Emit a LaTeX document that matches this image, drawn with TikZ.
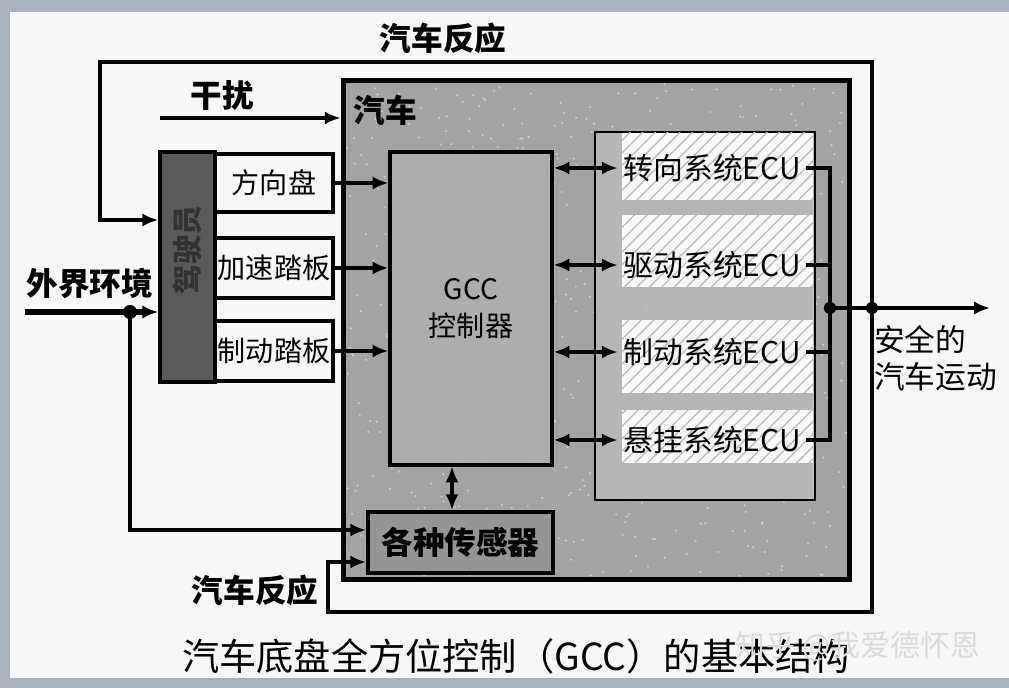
\documentclass[tikz,border=0pt]{standalone}
\usepackage{fontspec}
\setmainfont{Noto Sans CJK SC}
\usetikzlibrary{arrows.meta,patterns.meta}

\definecolor{pagegray}{HTML}{A9B1BE}
\definecolor{paper}{HTML}{F7F7F7}
\definecolor{carfill}{HTML}{A3A3A3}
\definecolor{panelfill}{HTML}{BABABA}
\definecolor{gccfill}{HTML}{AFAFAF}
\definecolor{drvfill}{HTML}{5A5A5A}
\definecolor{sensfill}{HTML}{959595}

\begin{document}
\begin{tikzpicture}[x=0.02cm,y=-0.02cm,
    box/.style={draw,line width=2pt,inner sep=0pt},
    arr/.style={line width=2.2pt,-{Latex[length=9pt,width=7.5pt]}},
    darr/.style={line width=2.2pt,{Latex[length=9pt,width=7.5pt]}-{Latex[length=9pt,width=7.5pt]}},
    lab/.style={font=\fontsize{18}{20}\selectfont\bfseries},
    boxtxt/.style={font=\fontsize{16}{18}\selectfont},
    ecutxt/.style={font=\fontsize{17}{19}\selectfont,inner sep=3pt}
]

    % Sfondo
    \useasboundingbox (0,0) rectangle (1009,688);
    \fill[pagegray] (0,0) rectangle (1009,688);
    \fill[paper] (10,12) rectangle (1009,678);

    % Riquadri
    \node[box,line width=2.8pt,fill=carfill,minimum width=10.14cm,minimum height=10cm] (car) at (596.5,330) {};
    \pgfmathsetseed{7}
    \foreach \i in {1,...,600}
        \fill[white,opacity=0.45] ({347+500*rnd},{84+492*rnd}) circle[radius=0.7pt];
    \node[draw,line width=1.2pt,fill=panelfill,fill opacity=0.85,draw opacity=1,minimum width=4.4cm,minimum height=7.36cm] (panel) at (705,316) {};
    \foreach \ya/\yb in {133/200,215/287,320/393,410/463}
        \fill[white!95!gray,postaction={pattern={Lines[angle=45,distance=5pt,line width=0.7pt]},pattern color=gray!55}] (622,\ya) rectangle (813,\yb);

    \node[box,line width=1.8pt,fill=gccfill,fill opacity=0.9,text opacity=1,minimum width=3.24cm,minimum height=6.26cm,align=center,font=\fontsize{16}{21}\selectfont] (gcc) at (471,308.5) {GCC\\控制器};
    \node[box,line width=2.2pt,fill=sensfill,lab,minimum width=3.7cm,minimum height=1.22cm] (sensor) at (460.5,542.5) {各种传感器};

    \node[box,fill=drvfill,minimum width=1.1cm,minimum height=4.6cm] (driver) at (187.5,267) {};
    \node[rotate=90,text=black!80,font=\fontsize{17}{19}\selectfont\bfseries] (drvlab) at (187.5,250) {驾驶员};
    \node[box,fill=paper,boxtxt,minimum width=2.36cm,minimum height=1.16cm] (wheel) at (274,183) {方向盘};
    \node[box,fill=paper,boxtxt,minimum width=2.36cm,minimum height=1.2cm] (accel) at (274,268) {加速踏板};
    \node[box,fill=paper,boxtxt,minimum width=2.36cm,minimum height=1.2cm] (brake) at (274,351) {制动踏板};

    \node[ecutxt] (ecu1) at (712,168) {转向系统ECU};
    \node[ecutxt] (ecu2) at (712,265) {驱动系统ECU};
    \node[ecutxt] (ecu3) at (712,352) {制动系统ECU};
    \node[ecutxt] (ecu4) at (712,440) {悬挂系统ECU};

    % Punti di riferimento
    \coordinate (busT) at (830,168);
    \coordinate (busB) at (830,440);
    \coordinate (jn) at (830,308);
    \coordinate (fb) at (872,308);
    \coordinate (out) at (990,308);
    \coordinate (topL) at (100,62);
    \coordinate (fbin) at (100,220);
    \coordinate (botL) at (328,612);
    \coordinate (snsin) at (328,562);
    \coordinate (env) at (25,312);
    \coordinate (envdot) at (130,312);
    \coordinate (envdn) at (130,530);
    \coordinate (dist) at (160,118);
    \coordinate (sx) at (452,0);

    % Frecce
    \foreach \p in {wheel,accel,brake}
        \draw[arr] (\p.east) -- (\p.east -| gcc.west);
    \foreach \e in {1,...,4}
        \draw[darr] (gcc.east |- ecu\e.west) -- (ecu\e.west);
    \draw[darr] (gcc.south -| sx) -- (sensor.north -| sx);

    \draw[line width=2.6pt] (ecu1.east) -- (busT) -- (busB) -- (ecu4.east);
    \draw[line width=2.6pt] (ecu2.east) -- (ecu2.east -| busT);
    \draw[line width=2.6pt] (ecu3.east) -- (ecu3.east -| busT);
    \draw[arr] (jn) -- (out);

    \draw[arr] (fb) |- (topL) -- (fbin) -- (fbin -| driver.west);
    \draw[arr] (fb) |- (botL) -- (snsin) -- (snsin -| sensor.west);

    \draw[arr,line width=3pt] (env) -- (env -| driver.west);
    \draw[arr] (envdot) -- (envdn) -- (envdn -| sensor.west);
    \draw[arr] (dist) -- (dist -| car.west);

    \fill (jn) circle[radius=3.5pt];
    \fill (fb) circle[radius=3.5pt];
    \fill (envdot) circle[radius=4pt];

    % Etichette
    \node[lab] (fbtop) at (443,38) {汽车反应};
    \node[lab] (distlab) at (222,95) {干扰};
    \node[lab] (carlab) at (385,110) {汽车};
    \node[lab] (envlab) at (90,283) {外界环境};
    \node[lab] (fbbot) at (255,590) {汽车反应};
    \node[anchor=west,align=left,font=\fontsize{17.5}{21}\selectfont] (safe) at (868,358) {安全的\\汽车运动};
    \node[font=\fontsize{21.2}{23}\selectfont] (caption) at (516,656) {汽车底盘全方位控制（GCC）的基本结构};
    \node[font=\fontsize{17}{19}\selectfont,text=white!72!gray] (mark) at (858,647) {知乎 @我爱德怀恩};

\end{tikzpicture}
\end{document}
